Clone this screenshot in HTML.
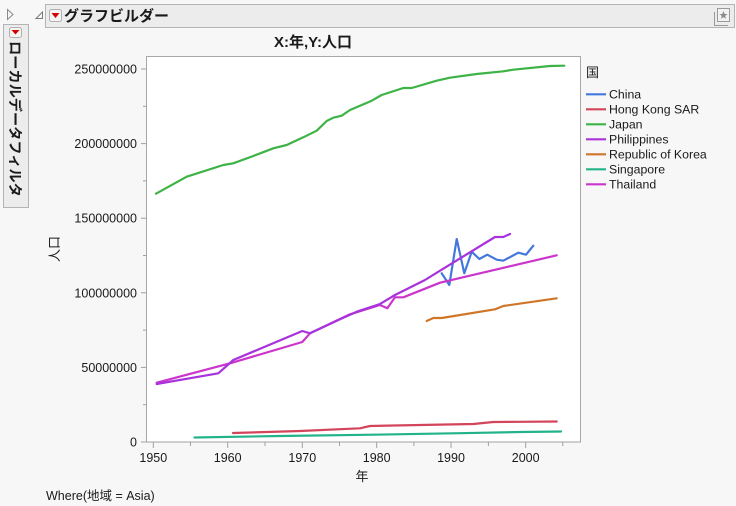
<!DOCTYPE html>
<html><head><meta charset="utf-8"><style>
html,body{margin:0;padding:0;background:#f7f7f7;}
svg{display:block;}
text{font-family:"Liberation Sans","Noto Sans CJK JP",sans-serif;fill:#1a1a1a;}
</style></head><body>
<svg width="736" height="506" viewBox="0 0 736 506" xmlns="http://www.w3.org/2000/svg">
<rect x="0" y="0" width="736" height="506" fill="#f7f7f7"/>
<!-- top-left outline triangle -->
<path d="M7.5,9.5 L13,14.5 L7.5,19.5 Z" fill="none" stroke="#8a8a8a" stroke-width="1"/>
<!-- header bar -->
<rect x="45.5" y="4.5" width="689" height="23" fill="#ececec" stroke="#b4b4b4"/>
<path d="M36,18.5 L42.5,18.5 L42.5,12 Z" fill="none" stroke="#7a7a7a" stroke-width="1"/>
<rect x="49.5" y="9.5" width="12" height="12" rx="2" fill="#f4f4f4" stroke="#b0b0b0"/>
<path d="M51.5,13 L59.5,13 L55.5,18 Z" fill="#d40000"/>
<text x="64" y="21" font-size="15" font-weight="bold" fill="#000">グラフビルダー</text>
<!-- right icon -->
<path d="M714.5,12 L714.5,25.5 L728,25.5" fill="none" stroke="#9a9a9a" stroke-width="1"/>
<rect x="717.5" y="8.5" width="12" height="13" fill="#f2f2f2" stroke="#9a9a9a"/>
<polygon points="723.5,11 724.6,14 727.5,14 725.2,15.9 726,18.8 723.5,17.1 721,18.8 721.8,15.9 719.5,14 722.4,14" fill="#8a8a8a"/>
<!-- left vertical panel -->
<rect x="3.5" y="24.5" width="25" height="183" fill="#ececec" stroke="#b4b4b4"/>
<rect x="9.5" y="27.5" width="12" height="10" rx="2" fill="#f4f4f4" stroke="#b0b0b0"/>
<path d="M11.5,30 L19.5,30 L15.5,34.5 Z" fill="#d40000"/>
<text transform="translate(10,41) rotate(90)" font-size="14.2" font-weight="bold" fill="#000">ローカルデータフィルタ</text>
<!-- title -->
<text x="313" y="47" font-size="15" font-weight="bold" text-anchor="middle" fill="#000">X:年,Y:人口</text>
<!-- plot area -->
<rect x="146.5" y="56.5" width="434" height="385.5" fill="#ffffff" stroke="#a8a8a8"/>
<line x1="141" y1="442" x2="581" y2="442" stroke="#a0a0a0"/>
<!-- y ticks -->
<g stroke="#a0a0a0" stroke-width="1">
<line x1="141" y1="69" x2="146" y2="69"/><line x1="141" y1="143.6" x2="146" y2="143.6"/>
<line x1="141" y1="218.2" x2="146" y2="218.2"/><line x1="141" y1="292.8" x2="146" y2="292.8"/>
<line x1="141" y1="367.4" x2="146" y2="367.4"/>
<line x1="143" y1="106.3" x2="146" y2="106.3"/><line x1="143" y1="180.9" x2="146" y2="180.9"/>
<line x1="143" y1="255.5" x2="146" y2="255.5"/><line x1="143" y1="330.1" x2="146" y2="330.1"/>
<line x1="143" y1="404.7" x2="146" y2="404.7"/>
<!-- x ticks -->
<line x1="153.3" y1="442" x2="153.3" y2="448"/><line x1="227.7" y1="442" x2="227.7" y2="448"/>
<line x1="302.3" y1="442" x2="302.3" y2="448"/><line x1="376.7" y1="442" x2="376.7" y2="448"/>
<line x1="451" y1="442" x2="451" y2="448"/><line x1="525.7" y1="442" x2="525.7" y2="448"/>
<line x1="190.5" y1="442" x2="190.5" y2="446"/><line x1="265" y1="442" x2="265" y2="446"/>
<line x1="339.5" y1="442" x2="339.5" y2="446"/><line x1="413.9" y1="442" x2="413.9" y2="446"/>
<line x1="488.4" y1="442" x2="488.4" y2="446"/><line x1="562.8" y1="442" x2="562.8" y2="446"/>
</g>
<g font-size="12.5" text-anchor="end">
<text x="137" y="73.5">250000000</text>
<text x="137" y="148">200000000</text>
<text x="137" y="222.7">150000000</text>
<text x="137" y="297.3">100000000</text>
<text x="137" y="372">50000000</text>
<text x="137" y="446.5">0</text>
</g>
<g font-size="12.5" text-anchor="middle">
<text x="153.3" y="462">1950</text>
<text x="227.7" y="462">1960</text>
<text x="302.3" y="462">1970</text>
<text x="376.7" y="462">1980</text>
<text x="451" y="462">1990</text>
<text x="525.7" y="462">2000</text>
</g>
<text x="362" y="481" font-size="13" text-anchor="middle">年</text>
<text transform="translate(59,249) rotate(-90)" font-size="13" text-anchor="middle">人口</text>
<text x="46" y="500" font-size="12.5">Where(地域 = Asia)</text>
<!-- series -->
<g fill="none" stroke-width="2.2" stroke-linejoin="round" stroke-linecap="round">
<polyline stroke="#3db346" points="156,193.7 186.7,176.7 223.3,165 233.3,163.3 253.3,156 273.3,148.3 286.7,145 303.3,137.3 316.7,130.7 326.7,121 333.3,117.7 341.7,115.7 350,110 360,105.7 371.7,100.7 381.7,95 403.3,88 411.7,88 436.7,80.7 450,77.7 476.7,74 503.3,71.3 513.3,69.7 550,66 564.3,65.7"/>
<polyline stroke="#d2455a" points="233,433 300,431 360,428.3 370,426 420,425 473.3,424 493.3,422 520,421.8 556.7,421.5"/>
<polyline stroke="#22b38a" points="194.5,437.5 280,436 373.3,434.7 460,433.2 520,432 561,431.5"/>
<polyline stroke="#cf7628" points="426.7,321 433.3,318 441.7,318 495,309.3 503.3,306 556.7,298.3"/>
<polyline stroke="#4477dd" points="441.7,273.3 449.3,285 456.7,239 464.3,273.3 471.7,251.7 479.3,259 487.3,254.7 496.7,259.7 503.3,260.7 518.3,252.7 526,254.7 533.3,245.7"/>
<polyline stroke="#cc35cc" points="156.7,382.7 230,363.3 302.3,342 310,333.3 350,314.3 380,305 387.3,308.3 395,297.3 403.3,297.3 420,290.7 440,282.7 556.7,255.3"/>
<polyline stroke="#a832dc" points="156.7,384 218.3,373.3 233.3,360 302.3,331 310,333.3 340,319.3 356.7,311.7 380,304 395,295 425,280 440,270.7 495,237 503.3,237 510,234"/>
</g>
<!-- legend -->
<text x="586" y="77" font-size="13">国</text>
<g stroke-width="2.2">
<line x1="586" y1="94.3" x2="606" y2="94.3" stroke="#4477dd"/>
<line x1="586" y1="109.3" x2="606" y2="109.3" stroke="#d2455a"/>
<line x1="586" y1="124.3" x2="606" y2="124.3" stroke="#3db346"/>
<line x1="586" y1="139.3" x2="606" y2="139.3" stroke="#a832dc"/>
<line x1="586" y1="154.3" x2="606" y2="154.3" stroke="#cf7628"/>
<line x1="586" y1="169.3" x2="606" y2="169.3" stroke="#22b38a"/>
<line x1="586" y1="184.3" x2="606" y2="184.3" stroke="#cc35cc"/>
</g>
<g font-size="12.3">
<text x="609" y="98.6">China</text>
<text x="609" y="113.6">Hong Kong SAR</text>
<text x="609" y="128.6">Japan</text>
<text x="609" y="143.6">Philippines</text>
<text x="609" y="158.6">Republic of Korea</text>
<text x="609" y="173.6">Singapore</text>
<text x="609" y="188.6">Thailand</text>
</g>
</svg>
</body></html>
